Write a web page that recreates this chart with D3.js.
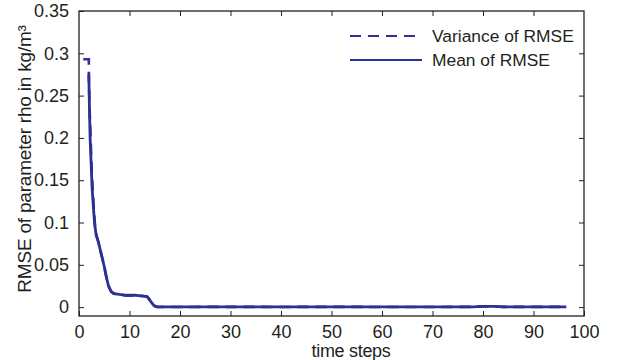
<!DOCTYPE html>
<html>
<head>
<meta charset="utf-8">
<script src="https://cdn.jsdelivr.net/npm/d3@7"></script>
<style>
  body { margin: 0; background: #fff; }
  text { font-family: "Liberation Sans", Arial, sans-serif; fill: #231f20; }
</style>
</head>
<body>
<div id="chart"></div>
<script>
// data
var meanSteps = [1.95, 2.05, 2.2, 2.4, 2.6, 2.85, 3.1, 3.4, 3.8, 4.2, 4.6, 5.0, 5.4, 5.8, 6.3, 6.8, 8, 9.5, 11, 12.5, 13.4, 13.8, 14.3, 14.8, 15.4, 20, 30, 40, 50, 60, 70, 78, 80, 82, 84, 90, 96.5];
var meanRmse = [0.275, 0.24, 0.2, 0.17, 0.14, 0.118, 0.098, 0.085, 0.078, 0.068, 0.058, 0.048, 0.036, 0.026, 0.019, 0.016, 0.015, 0.014, 0.0142, 0.013, 0.0128, 0.01, 0.006, 0.002, 0.0003, 0.0002, 0.0003, 0.0002, 0.0003, 0.0002, 0.0002, 0.0003, 0.0008, 0.0008, 0.0003, 0.0003, 0.0003];

var varSteps = [0.85, 1.95, 1.95, 2.1, 2.3, 2.5, 2.7, 2.95, 3.2, 3.5, 3.9, 4.3, 4.7, 5.1, 5.5, 5.9, 6.4, 7, 8, 9.5, 11, 12.5, 13.5, 13.9, 14.4, 14.9, 15.5, 20, 30, 40, 50, 60, 70, 78, 80, 82, 84, 90, 96.5];
var varRmse = [0.293, 0.293, 0.27, 0.235, 0.2, 0.165, 0.14, 0.115, 0.095, 0.084, 0.075, 0.065, 0.056, 0.045, 0.033, 0.024, 0.018, 0.016, 0.015, 0.0135, 0.0138, 0.0135, 0.0125, 0.0095, 0.0055, 0.0018, 0.0002, 0.0002, 0.0003, 0.0002, 0.0003, 0.0002, 0.0002, 0.0003, 0.0009, 0.0008, 0.0003, 0.0003, 0.0003];

var xTicks = [0, 10, 20, 30, 40, 50, 60, 70, 80, 90, 100];
var yTicks = [0, 0.05, 0.1, 0.15, 0.2, 0.25, 0.3, 0.35];
var seriesNames = ["Variance of RMSE", "Mean of RMSE"];

var lineColor = "#2e3192";

// plot box
var margin = { top: 11, right: 41, bottom: 44, left: 79 },
  width = 625 - margin.left - margin.right,
  height = 360 - margin.top - margin.bottom;

var svg = d3
  .select("#chart")
  .append("svg")
  .attr("width", 625)
  .attr("height", 360);

var g = svg
  .append("g")
  .attr("transform", "translate(" + margin.left + "," + margin.top + ")");

var x = d3.scaleLinear().domain([0, 100]).range([0, width]);
var y = d3.scaleLinear().domain([-0.0105, 0.35]).range([height, 0]);

g.append("clipPath")
  .attr("id", "clip")
  .append("rect")
  .attr("width", width)
  .attr("height", height);

// axes with inward ticks on all four sides
function styleAxis(sel) {
  sel.select(".domain").remove();
  sel.selectAll(".tick line").attr("stroke", "#231f20");
}

var xBottom = g
  .append("g")
  .attr("transform", "translate(0," + height + ")")
  .call(d3.axisBottom(x).tickValues(xTicks).tickSizeInner(-5).tickSizeOuter(0).tickPadding(9).tickFormat(d3.format("d")));
styleAxis(xBottom);
xBottom.selectAll("text").attr("font-size", "18px").attr("dy", "0.71em");

var xTop = g
  .append("g")
  .call(d3.axisTop(x).tickValues(xTicks.slice(1, -1)).tickSizeInner(-5).tickSizeOuter(0).tickFormat(""));
styleAxis(xTop);

var yLeft = g
  .append("g")
  .call(d3.axisLeft(y).tickValues(yTicks).tickSizeInner(-5).tickSizeOuter(0).tickPadding(10).tickFormat((d) => (d == 0 ? "0" : d3.format("")(+d.toFixed(2)))));
styleAxis(yLeft);
yLeft.selectAll("text").attr("font-size", "18px");

var yRight = g
  .append("g")
  .attr("transform", "translate(" + width + ",0)")
  .call(d3.axisRight(y).tickValues(yTicks.slice(0, -1)).tickSizeInner(-5).tickSizeOuter(0).tickFormat(""));
styleAxis(yRight);

g.append("rect")
  .attr("width", width)
  .attr("height", height)
  .attr("fill", "none")
  .attr("stroke", "#231f20")
  .attr("stroke-width", 1.3);

// lines
var line = d3
  .line()
  .x((d) => x(d[0]))
  .y((d) => y(d[1]));

var varData = varSteps.map((s, i) => [s, varRmse[i]]);
var meanData = meanSteps.map((s, i) => [s, meanRmse[i]]);

g.append("path")
  .datum(meanData)
  .attr("clip-path", "url(#clip)")
  .attr("d", line)
  .attr("fill", "none")
  .attr("stroke", lineColor)
  .attr("stroke-width", 2.8)
  .attr("stroke-linejoin", "round");

g.append("path")
  .datum(varData)
  .attr("clip-path", "url(#clip)")
  .attr("d", line)
  .attr("fill", "none")
  .attr("stroke", lineColor)
  .attr("stroke-width", 2.6)
  .attr("stroke-dasharray", "11,7");

// legend
var legend = svg.append("g");
seriesNames.forEach((name, i) => {
  var ly = 36 + i * 24;
  legend
    .append("line")
    .attr("x1", 350)
    .attr("x2", 422)
    .attr("y1", ly)
    .attr("y2", ly)
    .attr("stroke", lineColor)
    .attr("stroke-width", 2.2)
    .attr("stroke-dasharray", i == 0 ? "11,7" : null);
  legend
    .append("text")
    .attr("x", 432)
    .attr("y", ly + 6)
    .attr("font-size", "17.4px")
    .text(name);
});

// axis titles
svg
  .append("text")
  .attr("x", 351)
  .attr("y", 357)
  .attr("text-anchor", "middle")
  .attr("font-size", "18px")
  .attr("letter-spacing", "-0.3px")
  .text("time steps");

svg
  .append("text")
  .attr("transform", "translate(31,159) rotate(-90)")
  .attr("text-anchor", "middle")
  .attr("font-size", "19px")
  .attr("letter-spacing", "-0.2px")
  .text("RMSE of parameter rho in kg/m³");
</script>
</body>
</html>
